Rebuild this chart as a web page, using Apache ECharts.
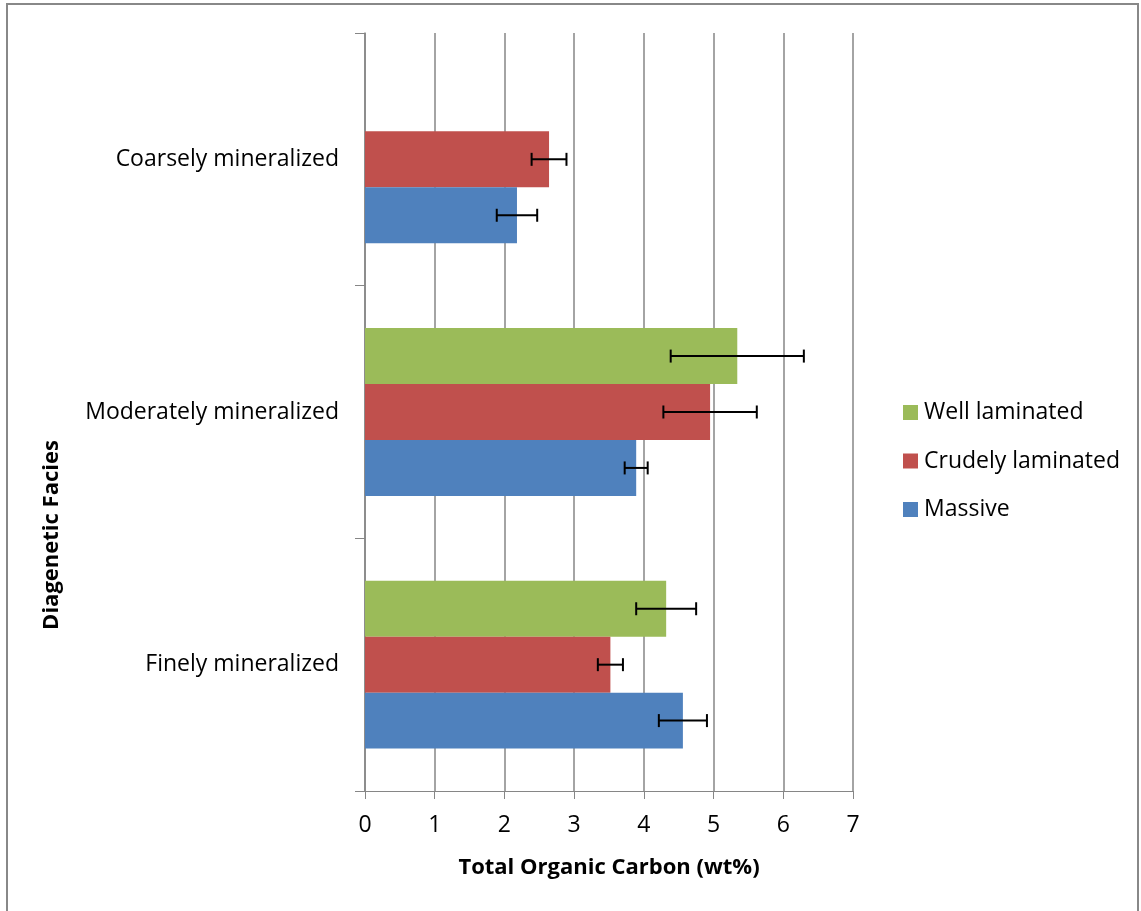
<!DOCTYPE html>
<html>
<head>
<meta charset="utf-8">
<script src="https://cdn.jsdelivr.net/npm/echarts@6/dist/echarts.min.js"></script>
<style>
html,body{margin:0;padding:0;background:#fff;}
#chart{width:1141px;height:911px;}
</style>
</head>
<body>
<div id="chart"></div>
<script>
const categories = ['Finely mineralized', 'Moderately mineralized', 'Coarsely mineralized'];
const massive = [4.56, 3.89, 2.18];
const crudely = [3.52, 4.95, 2.64];
const well = [4.32, 5.34, null];
const massiveErr = [0.345, 0.165, 0.29];
const crudelyErr = [0.18, 0.67, 0.25];
const wellErr = [0.43, 0.955, null];
const xTicks = [0, 1, 2, 3, 4, 5, 6, 7];

const colors = { massive: '#4F81BD', crudely: '#C0504D', well: '#9BBB59' };
const FONT = 'Open Sans';
const FS = 23;
const FSB = 22;
const GAP = 0.336;

// slot k: 0 = bottom (Massive), 1 = middle (Crudely), 2 = top (Well)
const values = [massive, crudely, well];
const errs = [massiveErr, crudelyErr, wellErr];
const errData = [];
values.forEach((arr, k) => {
  arr.forEach((v, i) => {
    if (v != null && errs[k][i] != null) {
      errData.push([i, v - errs[k][i], v + errs[k][i], k]);
    }
  });
});

const chart = echarts.init(document.getElementById('chart'));
const axisColor = '#868686';

const barCommon = { type: 'bar', barGap: '0%', barCategoryGap: (GAP * 100) + '%' };

const option = {
  animation: false,
  backgroundColor: '#fff',
  textStyle: { fontFamily: FONT },
  grid: { left: 365, right: 288, top: 33, bottom: 120, containLabel: false },
  legend: {
    orient: 'vertical',
    left: 898,
    top: 396,
    padding: 5,
    itemWidth: 15,
    itemHeight: 15,
    itemGap: 25.5,
    icon: 'rect',
    data: ['Well laminated', 'Crudely laminated', 'Massive'],
    textStyle: { fontFamily: FONT, fontSize: FS, lineHeight: 23, color: '#000', padding: [0, 0, 0, 1] }
  },
  xAxis: {
    type: 'value',
    min: xTicks[0],
    max: xTicks[xTicks.length - 1],
    interval: 1,
    name: 'Total Organic Carbon (wt%)',
    nameLocation: 'middle',
    nameGap: 66,
    nameTextStyle: { fontFamily: FONT, fontSize: FSB, fontWeight: 'bold', color: '#000' },
    axisLine: { show: true, lineStyle: { color: axisColor, width: 1 } },
    axisTick: { show: true, length: 8, lineStyle: { color: axisColor } },
    axisLabel: { fontFamily: FONT, fontSize: FS, color: '#000', margin: 23 },
    splitLine: { show: true, lineStyle: { color: axisColor, width: 1.5 } }
  },
  yAxis: {
    type: 'category',
    data: categories,
    axisLine: { show: true, lineStyle: { color: axisColor, width: 1.5 } },
    axisTick: { show: true, length: 10, lineStyle: { color: axisColor } },
    axisLabel: { fontFamily: FONT, fontSize: FS, color: '#000', margin: 26 },
    splitLine: { show: false }
  },
  series: [
    Object.assign({ name: 'Well laminated', data: well, itemStyle: { color: colors.well } }, barCommon),
    Object.assign({ name: 'Crudely laminated', data: crudely, itemStyle: { color: colors.crudely } }, barCommon),
    Object.assign({ name: 'Massive', data: massive, itemStyle: { color: colors.massive } }, barCommon),
    {
      type: 'custom',
      name: 'errors',
      z: 10,
      data: errData,
      encode: { x: [1, 2], y: 0 },
      renderItem: function (params, api) {
        const cat = api.value(0);
        const lo = api.value(1);
        const hi = api.value(2);
        const k = api.value(3);
        const c = api.coord([lo, cat]);
        const bandH = api.size([0, 1])[1];
        const barW = bandH * (1 - GAP) / 3;
        const y = c[1] + (1 - k) * barW;
        const x1 = c[0];
        const x2 = api.coord([hi, cat])[0];
        const cap = 6.5;
        const st = { stroke: '#000', lineWidth: 2 };
        return {
          type: 'group',
          children: [
            { type: 'line', shape: { x1: x1, y1: y, x2: x2, y2: y }, style: st },
            { type: 'line', shape: { x1: x1, y1: y - cap, x2: x1, y2: y + cap }, style: st },
            { type: 'line', shape: { x1: x2, y1: y - cap, x2: x2, y2: y + cap }, style: st }
          ]
        };
      }
    }
  ],
  graphic: [
    {
      type: 'rect',
      shape: { x: 7, y: 4, width: 1131, height: 920 },
      style: { fill: 'none', stroke: '#888', lineWidth: 2 },
      silent: true
    },
    {
      type: 'text',
      x: 52,
      y: 535,
      rotation: Math.PI / 2,
      style: {
        text: 'Diagenetic Facies',
        fontFamily: FONT,
        fontSize: FSB,
        fontWeight: 'bold',
        fill: '#000',
        align: 'center',
        verticalAlign: 'middle'
      }
    }
  ]
};
chart.setOption(option);
</script>
</body>
</html>
